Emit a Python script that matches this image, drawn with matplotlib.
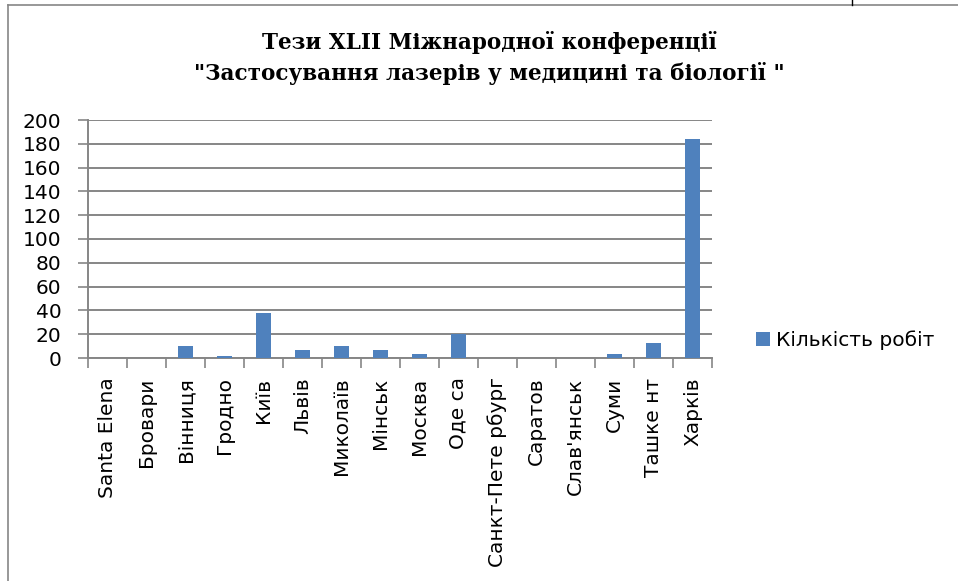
import matplotlib.pyplot as plt
from matplotlib.lines import Line2D
import numpy as np

# Дані
cities = ['Santa Elena', 'Бровари', 'Вінниця', 'Гродно', 'Київ', 'Львів',
          'Миколаїв', 'Мінськ', 'Москва', 'Оде са', 'Санкт-Пете рбург',
          'Саратов', "Слав'янськ", 'Суми', 'Ташке нт', 'Харків']
counts = [0, 0, 10, 2, 38, 7, 10, 7, 3, 20, 0, 0, 0, 3, 13, 184]
series_name = 'Кількість робіт'
title = 'Тези XLII Міжнародної конференції\n"Застосування лазерів у медицині та біології "'

plt.rcParams['font.family'] = ['DejaVu Sans']
grey = '#868686'
fs = 14.5

fig = plt.figure(figsize=(9.58, 5.81), dpi=100)
W, H = 958, 581
ax = fig.add_axes([88 / W, (H - 358) / H, (712 - 88) / W, (358 - 120) / H])

x = np.arange(len(cities))
ax.bar(x, counts, width=0.4, color='#4F81BD', label=series_name, zorder=3)

ax.set_xlim(-0.5, len(cities) - 0.5)
ax.set_ylim(0, 200)
ax.set_yticks(range(0, 201, 20))
ax.tick_params(axis='y', labelsize=fs, length=7, width=1.2, color=grey, pad=12)
ax.yaxis.grid(True, color=grey, linewidth=1.4, zorder=0)
ax.set_axisbelow(True)

ax.set_xticks(x)
ax.set_xticklabels(cities, rotation=90, fontsize=fs, va='top')
ax.tick_params(axis='x', length=0, pad=14)
ax.set_xticks(np.arange(len(cities) + 1) - 0.5, minor=True)
ax.tick_params(axis='x', which='minor', length=7, width=1.2, color=grey)

for s in ['top', 'right']:
    ax.spines[s].set_visible(False)
for s in ['left', 'bottom']:
    ax.spines[s].set_color(grey)
    ax.spines[s].set_linewidth(1.4)

fig.text(489 / W, 1 - 58 / H, title, ha='center', va='center',
         fontsize=15.5, fontweight='bold', family='DejaVu Serif',
         linespacing=1.45)

ax.legend(loc='center left', bbox_to_anchor=(756 / W, 1 - 340 / H),
          bbox_transform=fig.transFigure, frameon=False, fontsize=fs,
          handlelength=0.7, handleheight=0.7, handletextpad=0.3,
          borderpad=0, borderaxespad=0)

# рамка діаграми
fig.add_artist(Line2D([8 / W, 8 / W], [0, 1 - 5 / H], color=grey, lw=1.2))
fig.add_artist(Line2D([8 / W, 1], [1 - 5 / H, 1 - 5 / H], color=grey, lw=1.2))
fig.add_artist(Line2D([852 / W, 852 / W], [1 - 5 / H, 1], color='black', lw=1))

fig.savefig('out.png', dpi=100)
